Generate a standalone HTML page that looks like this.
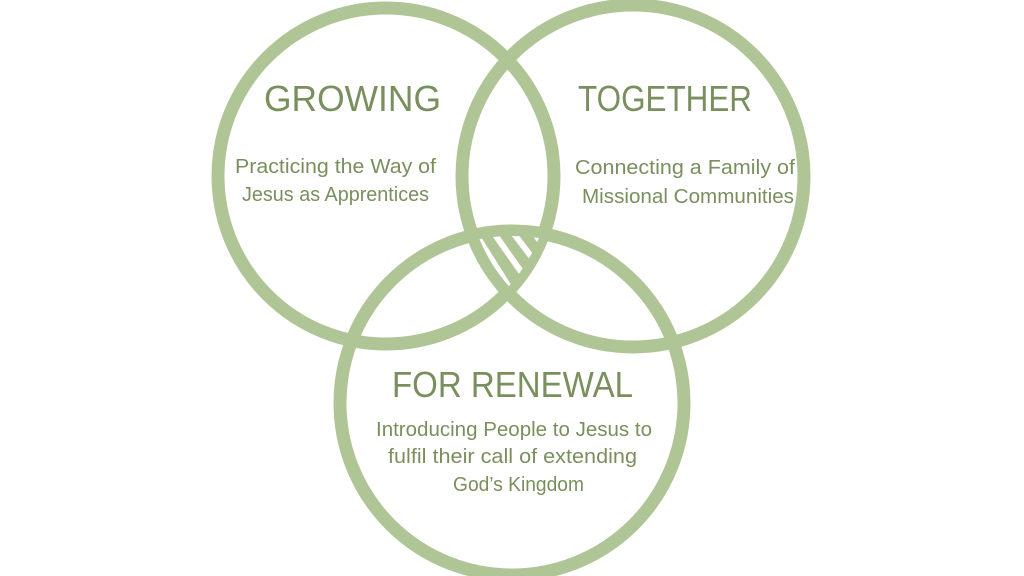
<!DOCTYPE html>
<html><head><style>html,body{margin:0;padding:0;background:#fff}svg{display:block}</style></head><body>
<svg width="1024" height="576" viewBox="0 0 1024 576" xmlns="http://www.w3.org/2000/svg">
<defs>
<clipPath id="cA"><circle cx="386" cy="176" r="165"/></clipPath>
<clipPath id="cB"><circle cx="633" cy="176" r="166"/></clipPath>
<clipPath id="cC"><circle cx="512" cy="403" r="167"/></clipPath>
</defs>
<g fill="none" stroke="#b0c596" stroke-width="13">
<circle cx="386" cy="176" r="168"/>
<circle cx="633" cy="176" r="171"/>
<circle cx="512" cy="403" r="172"/>
</g>
<g clip-path="url(#cA)"><g clip-path="url(#cB)"><g clip-path="url(#cC)">
<rect x="440" y="220" width="140" height="90" fill="#b0c596"/>
<g stroke="#fff" stroke-width="6">
<line x1="468" y1="222" x2="516" y2="298"/>
<line x1="486" y1="222" x2="534" y2="290"/>
<line x1="505" y1="222" x2="552" y2="284"/>
<line x1="526" y1="222" x2="566" y2="276"/>
</g>
</g></g></g>
<g fill="#7a8f5e" font-family="Liberation Sans, sans-serif">
<text x="264" y="111" font-size="36" textLength="177" lengthAdjust="spacingAndGlyphs">GROWING</text>
<text x="578" y="111" font-size="36" textLength="174" lengthAdjust="spacingAndGlyphs">TOGETHER</text>
<text x="392" y="397" font-size="36" textLength="241" lengthAdjust="spacingAndGlyphs">FOR RENEWAL</text>
<g font-size="20">
<text x="235" y="173" textLength="201" lengthAdjust="spacingAndGlyphs">Practicing the Way of</text>
<text x="242" y="201" textLength="187" lengthAdjust="spacingAndGlyphs">Jesus as Apprentices</text>
<text x="575" y="174" textLength="220" lengthAdjust="spacingAndGlyphs">Connecting a Family of</text>
<text x="582" y="203" textLength="212" lengthAdjust="spacingAndGlyphs">Missional Communities</text>
<text x="376" y="436" textLength="276" lengthAdjust="spacingAndGlyphs">Introducing People to Jesus to</text>
<text x="388" y="463" textLength="249" lengthAdjust="spacingAndGlyphs">fulfil their call of extending</text>
<text x="453" y="491" textLength="131" lengthAdjust="spacingAndGlyphs">God’s Kingdom</text>
</g>
</g>
</svg>
</body></html>
